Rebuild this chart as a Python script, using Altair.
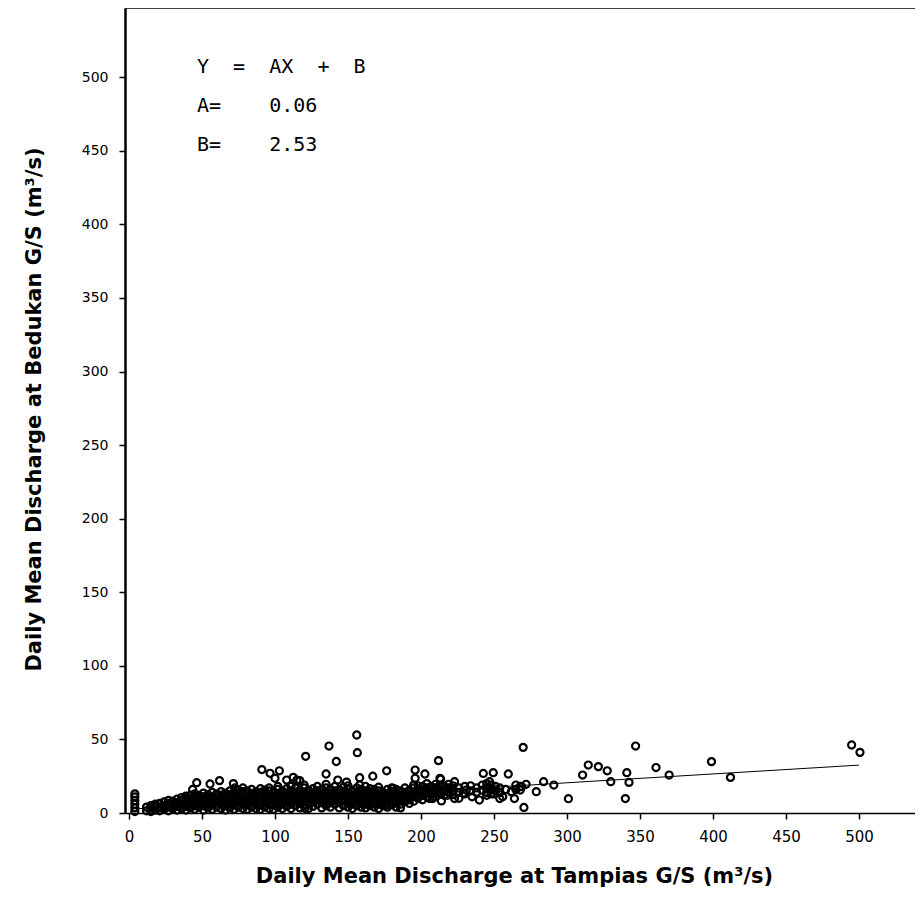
import altair as alt
import pandas as pd

# ---------------- data ----------------
# small low-flow column close to x = 0
col0_x = [4, 4, 4, 4, 4, 4]
col0_y = [1, 3.5, 6, 8.5, 11, 13]

# dense cloud: Tampias discharge -> list of Bedukan discharges
blob_x = [12, 15, 18, 21, 24, 27, 30, 33, 36, 39,
          42, 45, 48, 51, 54, 57, 60, 63, 66, 69,
          72, 75, 78, 81, 84, 87, 90, 93, 96, 99,
          102, 105, 108, 111, 114, 117, 120, 123, 126, 129,
          132, 135, 138, 141, 144, 147, 150, 153, 156, 159,
          162, 165, 168, 171, 174, 177, 180, 183, 186, 189,
          192, 195, 198, 201, 204, 207, 210, 213, 216, 219,
          222, 226, 230, 234, 238, 242, 245, 248, 251, 254,
          258, 262, 265, 268, 272]
blob_y = [[1.5, 4], [1, 3.5, 5], [2, 4.5, 6], [1.5, 3.5, 6.5], [2.5, 5, 7.5],
          [1.5, 4, 6.5, 8.5], [3, 5.5, 8], [2, 4.5, 7, 9.5], [3, 6, 8.5, 10.5], [2, 4.5, 7.5, 10, 11.5],
          [3.5, 6, 9, 12], [2.5, 5, 8, 10.5, 13], [4, 6.5, 9.5, 12], [2, 5, 8, 11, 13.5], [3.5, 6.5, 9.5, 12.5],
          [2.5, 5.5, 8.5, 11, 14], [4, 7, 10, 13], [3, 6, 9, 12, 14.5], [2, 5, 8, 11, 13.5], [3.5, 6.5, 9.5, 12.5, 15],
          [2.5, 5.5, 8.5, 11.5, 14], [4, 7, 10, 13, 15.5], [3, 6, 9, 12, 14.5, 17], [2.5, 5.5, 8.5, 11.5, 15], [4, 7, 10, 13, 16],
          [3, 6, 9, 12, 14.5], [2.5, 5.5, 8.5, 11.5, 14, 16.5], [4, 7, 10, 13, 15.5], [3, 6, 9, 12, 15, 17], [2.5, 5.5, 8.5, 11.5, 14.5],
          [4, 7, 10, 13, 16, 18], [3, 6, 9, 12, 15], [4.5, 7.5, 10.5, 13.5, 16.5], [3, 6, 9, 12, 15, 18], [5, 8, 11, 14, 17],
          [3.5, 6.5, 9.5, 12.5, 15.5], [5, 8, 11, 14, 17, 19], [3, 6.5, 9.5, 12.5, 15.5], [4.5, 7.5, 10.5, 13.5, 16.5], [6, 9, 12, 15, 18],
          [3.5, 7, 10, 13, 16], [5, 8, 11, 14, 17, 19.5], [4, 7, 10, 13, 16], [6, 9, 12, 15, 18], [3.5, 7, 10, 13, 16],
          [5, 8.5, 11.5, 14.5, 17.5], [4, 7, 10, 13, 16, 18.5], [3, 6, 9, 12, 15], [5, 8, 11, 14, 17], [4, 7, 10, 13, 16],
          [3.5, 6, 9, 12, 15, 18], [5, 8, 11, 14, 16.5], [4, 7.5, 10.5, 13.5, 16], [3, 6, 9, 12, 15, 17.5], [5, 8, 11, 14],
          [4, 7, 10, 13, 16], [5.5, 8.5, 11.5, 14.5, 17], [4, 7, 10, 13, 16], [3.5, 6, 9, 12, 15], [8, 11, 14, 17],
          [6.5, 9.5, 12.5, 15.5], [8, 11, 14, 17, 19], [10, 13, 16, 18.5], [9, 12, 15, 18], [11, 14, 17, 20],
          [12, 15, 18], [11, 14, 17, 19.5], [13, 16, 19], [12, 15, 18], [14, 17, 19.5],
          [12.5, 15.5, 18.5], [14, 17], [13, 18], [15, 18.5], [14, 17],
          [15.5, 19], [14, 17, 20], [13, 16, 19], [15, 18], [14, 17],
          [16], [14.5], [16, 19], [18], [19.5]]

# scattered points outside the dense cloud
sparse_x = [156, 137, 156.4, 121, 142, 176.5, 135, 91, 96.6, 103,
            100, 46.4, 55.5, 62, 71.5, 158, 167, 108, 112.5, 117,
            143, 149, 196, 196, 181, 176.5, 185.6, 270, 347, 495,
            500.7, 399, 212, 361, 314.6, 321.5, 327.6, 341, 310.7, 330,
            342.5, 370, 412, 284, 291, 279, 301, 340, 270.5, 242.7,
            249.5, 259.8, 202.7, 213.5, 223, 240, 254, 264, 214, 208,
            223, 247, 268, 262, 256, 231, 158, 213, 191, 206,
            229, 167, 156, 120.5, 43.6, 72.6, 115, 269, 245, 250,
            218, 235, 226]
sparse_y = [53, 45.5, 41, 38.5, 35, 28.7, 26.5, 29.5, 27, 28.7,
            23.6, 20.6, 19.7, 22, 20, 24, 25, 22.4, 24.2, 22,
            22.4, 21, 29.2, 23.6, 16.8, 5.4, 8.8, 44.6, 45.5, 46.2,
            41.2, 34.9, 35.6, 30.9, 32.6, 31.5, 28.7, 27.4, 25.8, 21.3,
            20.8, 25.8, 24.2, 21.3, 19, 14.5, 9.7, 9.8, 3.8, 26.9,
            27.4, 26.5, 26.5, 22.9, 21.3, 8.8, 9.8, 9.8, 8.2, 9.8,
            9.8, 21.3, 15.6, 14.5, 11.1, 15.6, 19, 23.6, 8.8, 9.8,
            13.4, 6.6, 5.4, 3.2, 16, 17, 22.4, 17.9, 12, 13,
            12, 11, 10]

# regression coefficients printed on the chart
coef_a = 0.06
coef_b = 2.53
line_x = [4, 500]

x_ticks = [0, 50, 100, 150, 200, 250, 300, 350, 400, 450, 500]
y_ticks = [0, 50, 100, 150, 200, 250, 300, 350, 400, 450, 500]

x_title = "Daily Mean Discharge at Tampias G/S (m\u00b3/s)"
y_title = "Daily Mean Discharge at Bedukan G/S (m\u00b3/s)"
nb = "\u00a0"
eq_text = ("Y" + nb * 2 + "=" + nb * 2 + "AX" + nb * 2 + "+" + nb * 2 + "B\n"
           + "A=" + nb * 4 + "0.06\n"
           + "B=" + nb * 4 + "2.53")

# ---------------- build tables ----------------
rows = []
for xv, yv in zip(col0_x, col0_y):
    rows.append({"tampias": xv, "bedukan": yv})
for xv, ys in zip(blob_x, blob_y):
    for yv in ys:
        rows.append({"tampias": xv, "bedukan": yv})
for xv, yv in zip(sparse_x, sparse_y):
    rows.append({"tampias": xv, "bedukan": yv})
pts = pd.DataFrame(rows)

line_df = pd.DataFrame({"tampias": line_x})

W, H = 790, 805
xscale = alt.Scale(domain=[-2.74, 538.4], nice=False, zero=False)
yscale = alt.Scale(domain=[0, 547], nice=False, zero=False)

xaxis = alt.Axis(values=x_ticks, title=x_title, grid=False,
                 tickSize=6, tickWidth=1.5, tickColor="black",
                 domainColor="black", domainWidth=1.5,
                 labelFont="DejaVu Sans", labelFontSize=15, labelColor="black",
                 labelPadding=10, labelFlush=False,
                 titleFont="DejaVu Sans", titleFontSize=21, titleFontWeight="bold",
                 titleColor="black", titleBaseline="alphabetic", titleY=69, titleX=389)
yaxis = alt.Axis(values=y_ticks, title=y_title, grid=False,
                 tickSize=6, tickWidth=1.5, tickColor="black",
                 domainColor="black", domainWidth=2.5,
                 labelFont="DejaVu Sans", labelFontSize=14, labelColor="black",
                 labelPadding=11, labelFlush=False,
                 titleFont="DejaVu Sans", titleFontSize=21, titleFontWeight="bold",
                 titleColor="black", titleAngle=270, titleBaseline="alphabetic",
                 titleX=-85, titleY=401)

points = alt.Chart(pts).mark_point(shape="circle", filled=False, size=50,
                                   strokeWidth=2.2, color="black", opacity=1).encode(
    x=alt.X("tampias:Q", scale=xscale, axis=xaxis),
    y=alt.Y("bedukan:Q", scale=yscale, axis=yaxis),
)

fit = alt.Chart(line_df).transform_calculate(
    bedukan=f"{coef_a} * datum.tampias + {coef_b}"
).mark_line(color="black", strokeWidth=1).encode(
    x=alt.X("tampias:Q", scale=xscale),
    y=alt.Y("bedukan:Q", scale=yscale),
)

top_border = alt.Chart(pd.DataFrame({"k": [0]})).mark_rule(
    color="black", strokeWidth=1.5).encode(
    x=alt.value(0), x2=alt.value(W), y=alt.value(0))

equation = alt.Chart(pd.DataFrame({"t": [eq_text]})).mark_text(
    font="DejaVu Sans Mono", fontSize=20, align="left", baseline="alphabetic",
    lineBreak="\n", lineHeight=39, color="black").encode(
    text="t:N", x=alt.value(72), y=alt.value(65))

chart = alt.layer(points, fit, top_border, equation).properties(
    width=W, height=H,
    autosize=alt.AutoSizeParams(type="none"),
    padding={"left": 117, "top": 0, "right": 0, "bottom": 80},
    background="white",
).configure_view(stroke=None)

chart.save("out.html", embed_options={"renderer": "svg", "actions": False})
